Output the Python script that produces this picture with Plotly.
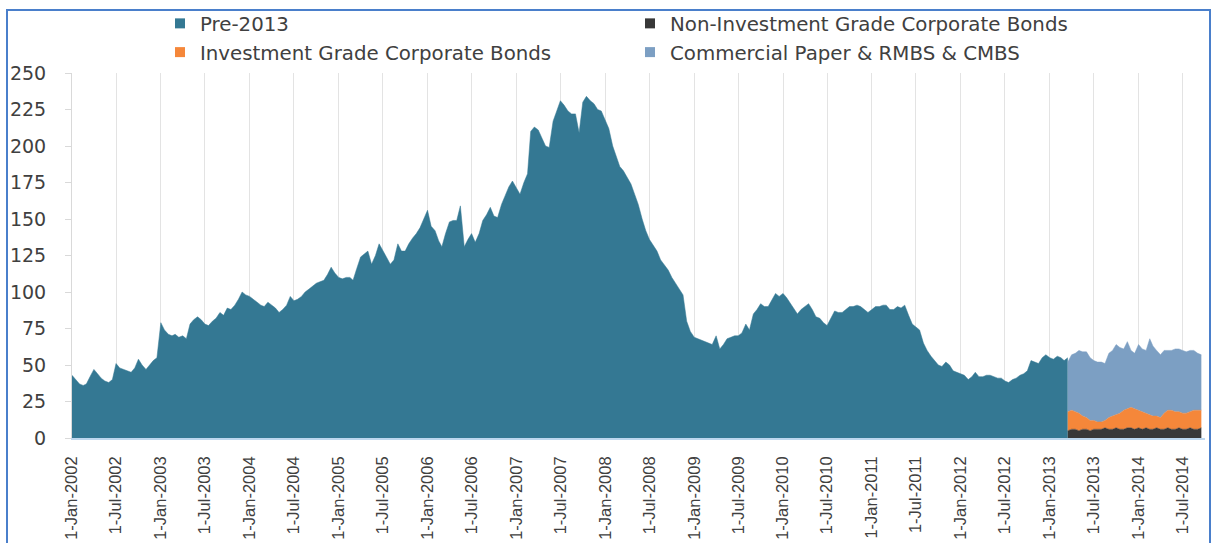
import plotly.graph_objects as go
import datetime as dt

# ---------------- data ----------------
# Pre-2013 holdings, semi-monthly readings (1st and 16th of each month), Jan-2002 .. 16-Mar-2013
pre_2002 = [43, 40, 37, 36, 37, 42, 47, 44, 41, 39, 38, 40, 51, 48, 47, 46, 45, 48, 54, 50, 47, 50, 53, 55]
pre_2003 = [79, 74, 71, 70, 71, 69, 70, 68, 78, 81, 83, 81, 78, 77, 80, 82, 86, 84, 89, 88, 91, 95, 100, 98]
pre_2004 = [97, 95, 93, 91, 90, 93, 91, 89, 86, 88, 91, 97, 94, 95, 97, 100, 102, 104, 106, 107, 108, 112, 117, 113]
pre_2005 = [110, 109, 110, 110, 108, 116, 124, 126, 128, 119, 125, 133, 128, 124, 119, 122, 133, 128, 128, 133, 137, 140, 144, 150]
pre_2006 = [156, 145, 142, 135, 131, 140, 148, 149, 149, 159, 131, 136, 140, 134, 140, 149, 153, 158, 152, 151, 160, 166, 172, 176]
pre_2007 = [171, 167, 175, 181, 210, 213, 211, 206, 200, 199, 217, 224, 231, 228, 224, 222, 222, 209, 230, 234, 231, 229, 225, 224]
pre_2008 = [218, 212, 200, 192, 186, 183, 178, 174, 167, 160, 150, 142, 136, 132, 128, 122, 118, 115, 110, 106, 102, 98, 80, 73]
pre_2009 = [69, 68, 67, 66, 65, 64, 70, 61, 64, 68, 69, 70, 70, 72, 78, 74, 85, 88, 92, 90, 90, 95, 99, 97]
pre_2010 = [99, 96, 92, 88, 85, 88, 90, 92, 88, 83, 82, 79, 77, 82, 87, 86, 86, 88, 90, 90, 91, 90, 88, 86]
pre_2011 = [88, 90, 90, 91, 91, 88, 88, 90, 89, 91, 84, 78, 76, 74, 65, 60, 56, 53, 50, 49, 52, 50, 46, 45]
pre_2012 = [44, 43, 40, 42, 45, 42, 42, 43, 43, 42, 41, 41, 39, 38, 40, 41, 43, 44, 46, 53, 52, 51, 55, 57]
pre_2013 = [55, 54, 56, 55, 53, 55]

# Post-2013 layers, semi-monthly readings, 16-Mar-2013 .. 16-Sep-2014
non_investment_grade = [5, 6, 6, 5, 6, 6, 5, 6, 6, 6, 7, 6, 6, 7, 6, 6, 7, 7, 6, 7, 6, 7, 6, 6, 7, 6, 6, 7, 6, 6, 7, 6, 6, 7, 6, 6, 7]
investment_grade = [13, 13, 12, 12, 9, 8, 7, 6, 5, 5, 5, 8, 9, 9, 11, 13, 13, 14, 14, 12, 12, 10, 10, 9, 8, 8, 11, 12, 13, 12, 11, 11, 11, 11, 13, 13, 12]
cp_rmbs_cmbs = [34, 38, 40, 43, 44, 45, 43, 41, 41, 41, 39, 44, 45, 48, 45, 42, 46, 39, 38, 45, 43, 43, 52, 48, 45, 43, 43, 41, 41, 43, 43, 43, 42, 42, 41, 39, 38]

tick_dates = [f"{y}-{m:02d}-01" for y in range(2002, 2015) for m in (1, 7)]
tick_labels = [f"1-{'Jan' if m == 1 else 'Jul'}-{y}" for y in range(2002, 2015) for m in (1, 7)]

colors = {"Pre-2013": "#347893",
          "Non-Investment Grade Corporate Bonds": "#383838",
          "Investment Grade Corporate Bonds": "#F5873A",
          "Commercial Paper & RMBS & CMBS": "#7C9FC3"}


def half_month_dates(start_index, count):
    out = []
    for i in range(start_index, start_index + count):
        y = 2002 + i // 24
        m = (i % 24) // 2 + 1
        d = 1 if i % 2 == 0 else 16
        out.append(dt.date(y, m, d))
    return out


pre_values = (pre_2002 + pre_2003 + pre_2004 + pre_2005 + pre_2006 + pre_2007 +
              pre_2008 + pre_2009 + pre_2010 + pre_2011 + pre_2012 + pre_2013)
pre_dates = half_month_dates(0, len(pre_values))
post_dates = half_month_dates(len(pre_values) - 1, len(non_investment_grade))

fig = go.Figure()

fig.add_trace(go.Scatter(x=pre_dates, y=pre_values, mode="lines", fill="tozeroy",
                         line=dict(color=colors["Pre-2013"], width=0.5),
                         fillcolor=colors["Pre-2013"], showlegend=False, hoverinfo="skip"))
for name, vals in [("Non-Investment Grade Corporate Bonds", non_investment_grade),
                   ("Investment Grade Corporate Bonds", investment_grade),
                   ("Commercial Paper & RMBS & CMBS", cp_rmbs_cmbs)]:
    fig.add_trace(go.Scatter(x=post_dates, y=vals, mode="lines", stackgroup="post",
                             line=dict(color=colors[name], width=0.5),
                             fillcolor=colors[name], showlegend=False, hoverinfo="skip"))

# legend entries (square swatches), two columns
legend_of = {"Pre-2013": "legend", "Investment Grade Corporate Bonds": "legend",
             "Non-Investment Grade Corporate Bonds": "legend2",
             "Commercial Paper & RMBS & CMBS": "legend2"}
for name in ["Pre-2013", "Investment Grade Corporate Bonds",
             "Non-Investment Grade Corporate Bonds", "Commercial Paper & RMBS & CMBS"]:
    fig.add_trace(go.Scatter(x=[None], y=[None], mode="markers", name=name,
                             marker=dict(symbol="square", size=10, color=colors[name]),
                             legend=legend_of[name], legendgroup=name, showlegend=True))

L, R, T, B = 72, 7, 73, 105
W, H = 1212, 543
pw, ph = W - L - R, H - T - B
base = H - B  # pixel y of the x axis

legend_font = dict(family="DejaVu Sans", size=19.8, color="#404040")
fig.update_layout(
    width=W, height=H,
    margin=dict(l=L, r=R, t=T, b=B, pad=0, autoexpand=False),
    paper_bgcolor="white", plot_bgcolor="white",
    legend=dict(x=(160 - L) / pw, y=(base - 4) / ph,
                xanchor="left", yanchor="top", orientation="v", traceorder="normal",
                font=legend_font, tracegroupgap=2, bgcolor="rgba(0,0,0,0)", itemwidth=30),
    legend2=dict(x=(630 - L) / pw, y=(base - 4) / ph,
                 xanchor="left", yanchor="top", orientation="v", traceorder="normal",
                 font=legend_font, tracegroupgap=2, bgcolor="rgba(0,0,0,0)", itemwidth=30),
    xaxis=dict(type="date", range=["2002-01-01", "2014-10-01"],
               tickmode="array", tickvals=tick_dates, ticktext=tick_labels,
               tickangle=-90, ticklabelstandoff=10,
               tickfont=dict(family="Liberation Sans", size=16.5, color="#404040"),
               showgrid=True, gridcolor="#E3E3E3", gridwidth=1,
               showline=True, linecolor="#BDD7EE", linewidth=1.5,
               ticks="", zeroline=False, fixedrange=True),
    yaxis=dict(range=[0, 250], tickmode="linear", tick0=0, dtick=25,
               tickfont=dict(family="DejaVu Sans", size=19, color="#404040"),
               showgrid=False, zeroline=False,
               showline=True, linecolor="#D9D9D9", linewidth=1,
               ticks="outside", ticklen=6, tickcolor="#D9D9D9", ticklabelstandoff=15,
               fixedrange=True),
    shapes=[dict(type="rect", xref="paper", yref="paper",
                 x0=(7 - L) / pw, x1=(1210 - L) / pw,
                 y0=(base - 560) / ph, y1=(base - 10) / ph,
                 line=dict(color="#4A7FCB", width=2), fillcolor="rgba(0,0,0,0)", layer="above")],
)

fig.write_html("out.html", config={"displayModeBar": False},
               post_script="document.body.style.margin='0';document.body.style.overflow='hidden';")
